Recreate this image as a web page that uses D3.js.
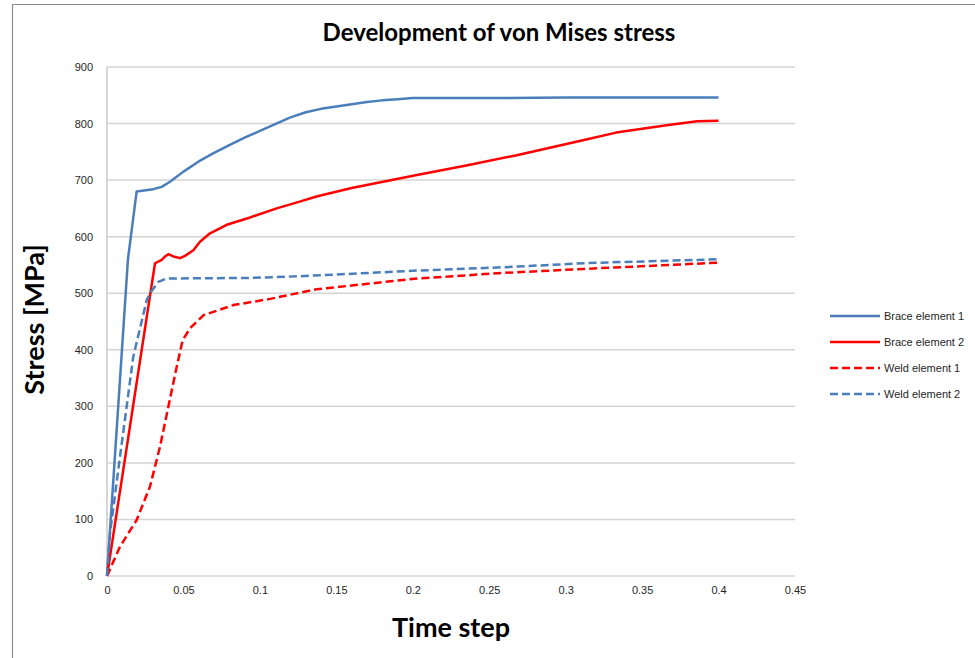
<!DOCTYPE html>
<html>
<head>
<meta charset="utf-8">
<script src="https://cdn.jsdelivr.net/npm/d3@7"></script>
<style>
  html, body { margin: 0; padding: 0; background: #fff; }
  svg text { font-family: Lato, "Open Sans", sans-serif; }
</style>
</head>
<body>
<svg id="chart" width="975" height="658"></svg>
<script>
// Von Mises stress [MPa] against time step, one array per element
const braceElement1 = [
  [0, 0], [0.0137, 560], [0.0194, 680], [0.0303, 684], [0.0358, 688], [0.0412, 697],
  [0.05, 715], [0.06, 733], [0.07, 748], [0.08, 762], [0.09, 775], [0.1, 787],
  [0.11, 799], [0.12, 811], [0.13, 820], [0.14, 826], [0.15, 830], [0.16, 834],
  [0.17, 838], [0.18, 841], [0.19, 843], [0.2, 845], [0.25, 845], [0.3, 846],
  [0.35, 846], [0.4, 846]
];
const braceElement2 = [
  [0, 0], [0.0277, 488], [0.0314, 553], [0.0358, 559], [0.038, 565], [0.0401, 569],
  [0.0434, 565], [0.0478, 562], [0.051, 566], [0.0565, 576], [0.0608, 591],
  [0.0674, 606], [0.0783, 621], [0.0936, 634], [0.111, 650], [0.126, 662],
  [0.137, 671], [0.16, 686], [0.2027, 709], [0.235, 726], [0.268, 744],
  [0.312, 771], [0.333, 784], [0.366, 797], [0.386, 804], [0.4, 805]
];
const weldElement1 = [
  [0, 0], [0.0085, 52], [0.0194, 99], [0.0281, 158], [0.0347, 229], [0.0401, 299],
  [0.0456, 370], [0.0495, 417], [0.0543, 438], [0.063, 461], [0.0826, 479],
  [0.1067, 490], [0.137, 507], [0.2027, 526], [0.26, 536], [0.312, 543],
  [0.36, 549], [0.4, 554]
];
const weldElement2 = [
  [0, 0], [0.002, 76], [0.0085, 211], [0.0172, 388], [0.026, 488], [0.0281, 500],
  [0.0336, 520], [0.039, 526], [0.0936, 527], [0.126, 530], [0.2027, 540],
  [0.26, 546], [0.312, 553], [0.36, 557], [0.4, 560]
];

const seriesNames = ["Brace element 1", "Brace element 2", "Weld element 1", "Weld element 2"];
const seriesData = [braceElement1, braceElement2, weldElement1, weldElement2];
const seriesColors = ["#4a7ebb", "#ff0000", "#ff0000", "#4a7ebb"];
const seriesDashed = [false, false, true, true];

const xTicks = [0, 0.05, 0.1, 0.15, 0.2, 0.25, 0.3, 0.35, 0.4, 0.45];
const yTicks = [0, 100, 200, 300, 400, 500, 600, 700, 800, 900];

const chartTitle = "Development of von Mises stress";
const xTitle = "Time step";
const yTitle = "Stress [MPa]";

const svg = d3.select("#chart");

// chart frame: top and left edges
svg.append("path")
  .attr("d", "M12.5,658 V4.5 H975")
  .attr("fill", "none").attr("stroke", "#8c8c8c").attr("stroke-width", 1.2);

const plot = { left: 107, right: 795, top: 67, bottom: 576 };

const x = d3.scaleLinear().domain([0, 0.45]).range([plot.left, plot.right]);
const y = d3.scaleLinear().domain([0, 900]).range([plot.bottom, plot.top]);

// horizontal gridlines
svg.append("g")
  .selectAll("line")
  .data(yTicks)
  .join("line")
  .attr("x1", plot.left).attr("x2", plot.right)
  .attr("y1", d => y(d)).attr("y2", d => y(d))
  .attr("stroke", "#d4d4d4").attr("stroke-width", 1.5);

// vertical axis line
svg.append("line")
  .attr("x1", plot.left).attr("x2", plot.left)
  .attr("y1", plot.top).attr("y2", plot.bottom)
  .attr("stroke", "#c8c8c8").attr("stroke-width", 1.5);

// axes (labels only)
const tickFont = "'Liberation Sans Narrow', 'Liberation Sans', sans-serif";
const xAxis = d3.axisBottom(x).tickValues(xTicks).tickSize(0).tickPadding(10)
  .tickFormat(d => d === 0 ? "0" : String(+d.toFixed(2)));
const gx = svg.append("g").attr("transform", `translate(0,${plot.bottom})`).call(xAxis);
gx.select(".domain").remove();
gx.selectAll("text").attr("font-size", 11).attr("fill", "#262626")
  .style("font-family", tickFont);

const yAxis = d3.axisLeft(y).tickValues(yTicks).tickSize(0).tickPadding(14);
const gy = svg.append("g").attr("transform", `translate(${plot.left},0)`).call(yAxis);
gy.select(".domain").remove();
gy.selectAll("text").attr("font-size", 11).attr("fill", "#262626")
  .style("font-family", tickFont);

// series lines
const line = d3.line().x(d => x(d[0])).y(d => y(d[1]));
svg.append("g")
  .selectAll("path")
  .data(seriesData)
  .join("path")
  .attr("d", line)
  .attr("fill", "none")
  .attr("stroke", (d, i) => seriesColors[i])
  .attr("stroke-width", 2.5)
  .attr("stroke-linejoin", "round")
  .attr("stroke-dasharray", (d, i) => seriesDashed[i] ? "8,4" : null);

// titles
svg.append("text")
  .attr("x", 499).attr("y", 41)
  .attr("text-anchor", "middle")
  .attr("font-size", 24).attr("font-weight", "bold").attr("fill", "#000")
  .text(chartTitle);

svg.append("text")
  .attr("x", 451).attr("y", 637)
  .attr("text-anchor", "middle")
  .attr("font-size", 27).attr("font-weight", "bold").attr("fill", "#000")
  .text(xTitle);

svg.append("text")
  .attr("transform", `translate(44,${(plot.top + plot.bottom) / 2 - 2}) rotate(-90)`)
  .attr("text-anchor", "middle")
  .attr("font-size", 27).attr("font-weight", "bold").attr("fill", "#000")
  .text(yTitle);

// legend
const legend = svg.append("g")
  .selectAll("g")
  .data(seriesNames)
  .join("g")
  .attr("transform", (d, i) => `translate(830,${316 + i * 26})`);
legend.append("line")
  .attr("x1", 0).attr("x2", 50).attr("y1", 0).attr("y2", 0)
  .attr("stroke", (d, i) => seriesColors[i])
  .attr("stroke-width", 2.5)
  .attr("stroke-dasharray", (d, i) => seriesDashed[i] ? "8,4" : null);
legend.append("text")
  .attr("x", 54).attr("y", 4)
  .attr("font-size", 11).attr("fill", "#262626")
  .style("font-family", tickFont)
  .text(d => d);
</script>
</body>
</html>
